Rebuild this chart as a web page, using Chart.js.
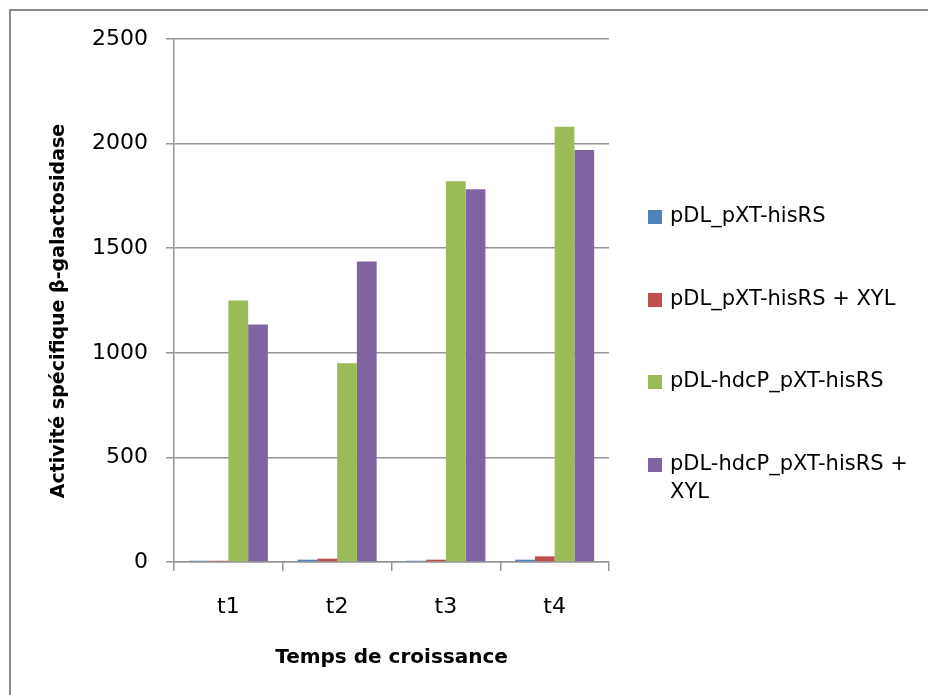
<!DOCTYPE html>
<html>
<head>
<meta charset="utf-8">
<script src="https://cdn.jsdelivr.net/npm/chart.js@4/dist/chart.umd.min.js"></script>
<style>
  html, body { margin: 0; padding: 0; background: #ffffff; overflow: hidden; }
  canvas { display: block; }
</style>
</head>
<body>
<canvas id="chart" width="928" height="695"></canvas>
<script>
// Growth time points
const categories = ['t1', 't2', 't3', 't4'];

// Specific beta-galactosidase activity per strain / condition
const seriesNames = [
  'pDL_pXT-hisRS',
  'pDL_pXT-hisRS + XYL',
  'pDL-hdcP_pXT-hisRS',
  'pDL-hdcP_pXT-hisRS + XYL'
];
const pDL_pXT = [6, 11, 6, 11];
const pDL_pXT_XYL = [6, 16, 11, 27];
const pDL_hdcP_pXT = [1250, 950, 1820, 2080];
const pDL_hdcP_pXT_XYL = [1135, 1436, 1782, 1970];

// Legend text, wrapped as laid out on the right
const legendLines = [
  ['pDL_pXT-hisRS'],
  ['pDL_pXT-hisRS + XYL'],
  ['pDL-hdcP_pXT-hisRS'],
  ['pDL-hdcP_pXT-hisRS +', 'XYL']
];

const yTitle = 'Activité spécifique β-galactosidase';
const xTitle = 'Temps de croissance';

const colors = ['#4F81BD', '#C0504D', '#9BBB59', '#8064A2'];
const FONT = "'DejaVu Sans', sans-serif";
const gridColor = '#969696';

// Outer frame of the chart object (top and left edges visible)
const frame = {
  id: 'frame',
  beforeDraw(chart) {
    const ctx = chart.ctx;
    ctx.save();
    ctx.fillStyle = '#ffffff';
    ctx.fillRect(0, 0, chart.width, chart.height);
    ctx.strokeStyle = '#8a8a8a';
    ctx.lineWidth = 2;
    ctx.beginPath();
    ctx.moveTo(10, chart.height + 2);
    ctx.lineTo(10, 10);
    ctx.lineTo(chart.width + 2, 10);
    ctx.stroke();
    ctx.restore();
  }
};

// Axis titles and the side legend
const decorations = {
  id: 'decorations',
  afterDraw(chart) {
    const ctx = chart.ctx;
    const area = chart.chartArea;
    ctx.save();
    ctx.fillStyle = '#000000';

    // x axis title
    ctx.font = 'bold 20px ' + FONT;
    ctx.textAlign = 'center';
    ctx.textBaseline = 'middle';
    ctx.fillText(xTitle, (area.left + area.right) / 2, 658);

    // y axis title (rotated)
    ctx.save();
    ctx.translate(59, 311);
    ctx.rotate(-Math.PI / 2);
    ctx.font = 'bold 19px ' + FONT;
    ctx.fillText(yTitle, 0, 0);
    ctx.restore();

    // legend
    const rowY = [217, 300, 382, 465];
    ctx.font = '21px ' + FONT;
    ctx.textAlign = 'left';
    chart.data.datasets.forEach((ds, i) => {
      ctx.fillStyle = ds.backgroundColor;
      ctx.fillRect(648, rowY[i] - 7, 14, 14);
      ctx.fillStyle = '#000000';
      legendLines[i].forEach((line, k) => {
        ctx.fillText(line, 670, rowY[i] + k * 28);
      });
    });
    ctx.restore();
  }
};

const datasets = [pDL_pXT, pDL_pXT_XYL, pDL_hdcP_pXT, pDL_hdcP_pXT_XYL].map((vals, i) => ({
  label: seriesNames[i],
  data: vals,
  backgroundColor: colors[i],
  borderWidth: 0,
  categoryPercentage: 0.727,
  barPercentage: 1.0
}));

new Chart(document.getElementById('chart'), {
  type: 'bar',
  data: { labels: categories, datasets },
  options: {
    responsive: false,
    animation: false,
    devicePixelRatio: 1,
    layout: { padding: { left: 0, top: 39, right: 319, bottom: 0 } },
    plugins: {
      legend: { display: false },
      tooltip: { enabled: false },
      title: { display: false }
    },
    scales: {
      x: {
        offset: true,
        afterFit(scale) { scale.height = 133; },
        grid: {
          offset: true,
          drawOnChartArea: false,
          drawTicks: true,
          tickLength: 9,
          color: gridColor,
          lineWidth: 1.5
        },
        border: { color: gridColor, width: 1.5 },
        ticks: {
          color: '#000000',
          padding: 23,
          font: { family: FONT, size: 22 }
        }
      },
      y: {
        min: 0,
        max: 2500,
        afterFit(scale) { scale.width = 174; },
        grid: {
          color: gridColor,
          lineWidth: 1.5,
          drawTicks: true,
          tickLength: 8
        },
        border: { color: gridColor, width: 1.5 },
        ticks: {
          stepSize: 500,
          color: '#000000',
          padding: 18,
          font: { family: FONT, size: 22 },
          callback: (v) => String(v)
        }
      }
    }
  },
  plugins: [frame, decorations]
});
</script>
</body>
</html>
